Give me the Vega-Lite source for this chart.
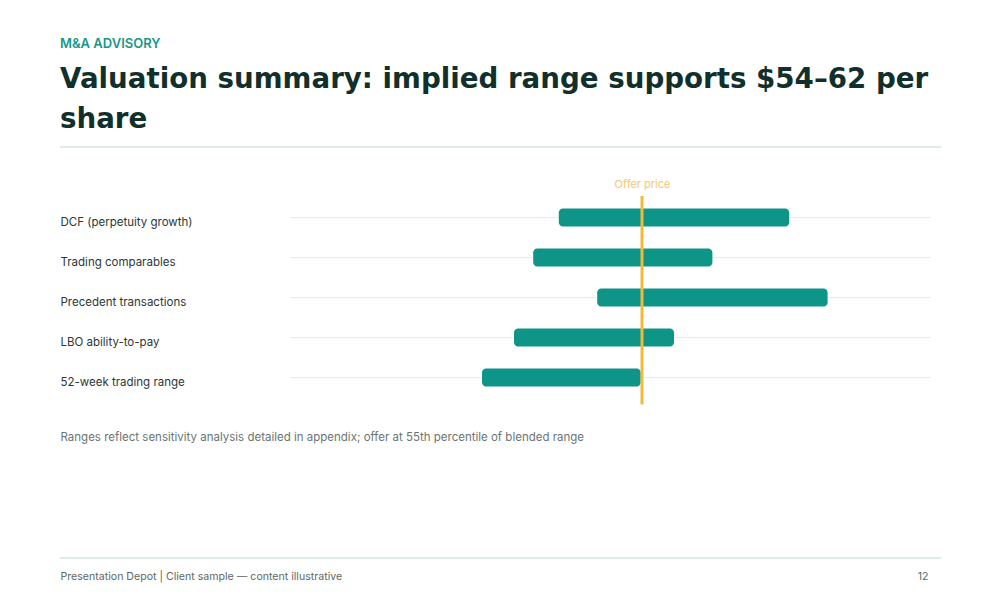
{
  "$schema": "https://vega.github.io/schema/vega-lite/v6.json",
  "width": 881,
  "height": 411,
  "autosize": {"type": "none"},
  "padding": {"left": 60, "top": 147, "right": 59, "bottom": 42},
  "background": "#ffffff",
  "view": {"stroke": "#cfe9e3", "strokeWidth": 1.5, "strokeDash": [881, 411]},
  "config": {"font": "Inter"},
  "title": {
    "text": "M&A ADVISORY",
    "subtitle": ["Valuation summary: implied range supports $54–62 per", "share"],
    "anchor": "start",
    "frame": "group",
    "orient": "top",
    "offset": 13,
    "font": "Inter",
    "fontSize": 13,
    "fontWeight": 600,
    "color": "#17978a",
    "subtitleFont": "DejaVu Sans",
    "subtitleFontSize": 27.7,
    "subtitleFontWeight": 700,
    "subtitleColor": "#12302b",
    "subtitleLineHeight": 40,
    "subtitlePadding": 15
  },
  "datasets": {
    "ranges": [
      {"method": "DCF (perpetuity growth)", "low": 51, "high": 69},
      {"method": "Trading comparables", "low": 49, "high": 63},
      {"method": "Precedent transactions", "low": 54, "high": 72},
      {"method": "LBO ability-to-pay", "low": 47.5, "high": 60},
      {"method": "52-week trading range", "low": 45, "high": 57.4}
    ],
    "offer": [{"price": 57.5}]
  },
  "layer": [
    {
      "data": {"name": "ranges"},
      "mark": {"type": "rule", "color": "#e4ebea", "strokeWidth": 1},
      "encoding": {
        "y": {
          "field": "method", "type": "nominal", "sort": null,
          "scale": {"domain": ["DCF (perpetuity growth)", "Trading comparables", "Precedent transactions", "LBO ability-to-pay", "52-week trading range"], "range": [50.5, 250.5], "paddingInner": 0.55, "paddingOuter": 0.275},
          "axis": null
        },
        "x": {
          "datum": 30, "type": "quantitative",
          "scale": {"domain": [30, 80], "range": [230, 870], "nice": false, "zero": false},
          "axis": {
            "orient": "bottom", "values": [80], "labelExpr": "'12'",
            "domain": false, "ticks": false, "tickSize": 0, "grid": false,
            "labelAlign": "right", "labelBaseline": "alphabetic", "labelPadding": 21, "labelOffset": -2, "labelFlush": false,
            "labelFontSize": 10.5, "labelColor": "#5d6866",
            "title": "Presentation Depot | Client sample — content illustrative",
            "titleX": 0, "titleY": 21, "titleAlign": "left", "titleBaseline": "alphabetic",
            "titleFontSize": 10.6, "titleFontWeight": "normal", "titleColor": "#5d6866"
          }
        },
        "x2": {"datum": 80}
      }
    },
    {
      "data": {"name": "ranges"},
      "mark": {"type": "bar", "color": "#0f9488", "cornerRadius": 4},
      "encoding": {
        "y": {
          "field": "method", "type": "nominal", "sort": null,
          "scale": {"domain": ["DCF (perpetuity growth)", "Trading comparables", "Precedent transactions", "LBO ability-to-pay", "52-week trading range"], "range": [50.5, 250.5], "paddingInner": 0.55, "paddingOuter": 0.275},
          "axis": {
            "orient": "left", "domain": false, "ticks": false, "tickSize": 0, "grid": false,
            "labelAlign": "left", "labelPadding": 0, "labelBaseline": "alphabetic", "labelOffset": 8,
            "labelFontSize": 11.5, "labelColor": "#2b3836", "labelLimit": 0,
            "title": "Ranges reflect sensitivity analysis detailed in appendix; offer at 55th percentile of blended range",
            "titleAngle": 0, "titleAlign": "left", "titleBaseline": "alphabetic", "titleX": 0, "titleY": 293,
            "titleFontSize": 11.5, "titleFontWeight": "normal", "titleColor": "#6b7573"
          }
        },
        "x": {
          "field": "low", "type": "quantitative",
          "scale": {"domain": [30, 80], "range": [230, 870], "nice": false, "zero": false},
          "axis": null
        },
        "x2": {"field": "high"}
      }
    },
    {
      "data": {"name": "offer"},
      "mark": {"type": "rule", "color": "#f2b93c", "strokeWidth": 3},
      "encoding": {
        "x": {
          "field": "price", "type": "quantitative",
          "scale": {"domain": [30, 80], "range": [230, 870], "nice": false, "zero": false},
          "axis": {
            "orient": "top", "values": [57.5], "labelExpr": "'Offer price'",
            "domain": false, "ticks": false, "tickSize": 0, "grid": false,
            "labelAlign": "center", "labelBaseline": "alphabetic", "labelPadding": 0, "labelFlush": false,
            "offset": -40, "labelFontSize": 11, "labelColor": "#f5c76e", "title": null
          }
        },
        "y": {"datum": 0, "type": "quantitative", "scale": {"domain": [0, 1], "range": [49, 257.5]}, "axis": null},
        "y2": {"datum": 1}
      }
    }
  ],
  "resolve": {"scale": {"y": "independent"}, "axis": {"x": "independent", "y": "independent"}}
}
